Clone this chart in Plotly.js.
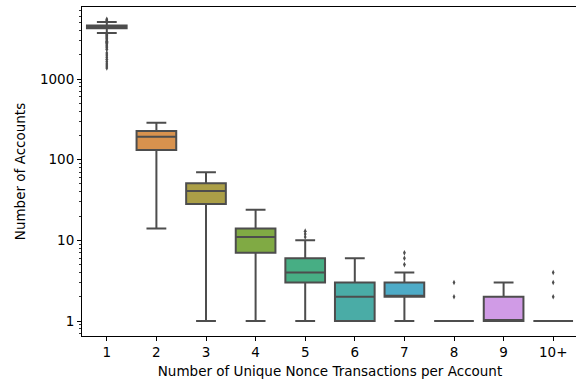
<!DOCTYPE html>
<html>
<head>
<meta charset="utf-8">
<script src="https://cdn.plot.ly/plotly-3.0.1.min.js"></script>
<style>
html,body{margin:0;padding:0;overflow:hidden;background:#fff;}
#chart{width:578px;height:383px;}
</style>
</head>
<body>
<div id="chart"></div>
<script>
// Data
const categories = ['1','2','3','4','5','6','7','8','9','10+'];
const q1Values = [4270, 132, 28.3, 7, 3, 1, 2, 1, 1, 1];
const medianValues = [4420, 193, 41, 11, 4, 2, 2, 1, 1, 1];
const q3Values = [4600, 227, 51, 14, 6, 3, 3, 1, 2, 1];
const lowerWhiskers = [3720, 14, 1, 1, 1, 1, 1, 1, 1, 1];
const upperWhiskers = [5085, 287, 70, 24, 10, 6, 4, 1, 3, 1];
const boxColors = ['#e3899a','#d8924e','#ab9f47','#80aa44','#47ae84','#4aaca6','#4eabc7','#7aa0e8','#d09be6','#e87ac8'];

const outlierCategories = ['1','1','1','1','1','1','1','1','1','1','1','1','1','1','1','1','1','1','1','1','1','1','1','1','1',
  '5','5','5','7','7','7','8','8','10+','10+','10+'];
const outlierValues = [5200, 5350, 5500, 3650, 3550, 3450, 3350, 3250, 3150, 3050, 2950, 2850, 2750, 2650, 2550, 2450, 2330,
  2100, 1980, 1860, 1750, 1640, 1540, 1450, 1370,
  11, 12, 13, 5, 6, 7, 2, 3, 2, 3, 4];

const yTickVals = [1, 10, 100, 1000];
const yTickText = ['1', '10', '100', '1000'];
const yMinorVals = [0.7,0.8,0.9,2,3,4,5,6,7,8,9,20,30,40,50,60,70,80,90,200,300,400,500,600,700,800,900,2000,3000,4000,5000,6000,7000];

const lineColor = '#4d4d4d';
const traces = categories.map((c, i) => ({
  type: 'box',
  x: [c],
  q1: [q1Values[i]],
  median: [medianValues[i]],
  q3: [q3Values[i]],
  lowerfence: [lowerWhiskers[i]],
  upperfence: [upperWhiskers[i]],
  width: 0.8,
  whiskerwidth: 0.5,
  fillcolor: boxColors[i],
  line: {color: lineColor, width: 2},
  boxpoints: false,
  hoverinfo: 'skip',
  showlegend: false
}));
traces.push({
  type: 'scatter',
  mode: 'markers',
  x: outlierCategories,
  y: outlierValues,
  marker: {symbol: 'diamond-tall', size: 4, color: lineColor},
  hoverinfo: 'skip',
  showlegend: false
});

const font = {family: 'DejaVu Sans, sans-serif', size: 13.5, color: '#000'};
const layout = {
  width: 578, height: 383,
  margin: {l: 82, r: 0, t: 7, b: 47},
  paper_bgcolor: '#fff', plot_bgcolor: '#fff',
  font: font,
  boxmode: 'overlay',
  xaxis: {
    type: 'category',
    categoryorder: 'array', categoryarray: categories,
    range: [-0.5, 9.5],
    showline: true, linecolor: '#000', linewidth: 1, mirror: true,
    ticks: 'outside', ticklen: 4, tickcolor: '#000', tickwidth: 1,
    showgrid: false, zeroline: false,
    tickfont: font,
    title: {text: 'Number of Unique Nonce Transactions per Account', font: font, standoff: 7}
  },
  yaxis: {
    type: 'log',
    range: [-0.186, 3.893],
    tickmode: 'array', tickvals: yTickVals, ticktext: yTickText,
    showline: true, linecolor: '#000', linewidth: 1, mirror: true,
    ticks: 'outside', ticklen: 4, tickcolor: '#000', tickwidth: 1,
    minor: {tickmode: 'array', tickvals: yMinorVals, ticks: 'outside', ticklen: 2, tickcolor: '#000', tickwidth: 0.8, showgrid: false},
    showgrid: false, zeroline: false,
    tickfont: font,
    title: {text: 'Number of Accounts', font: font, standoff: 11}
  }
};
Plotly.newPlot('chart', traces, layout, {staticPlot: true, displayModeBar: false});
</script>
</body>
</html>
